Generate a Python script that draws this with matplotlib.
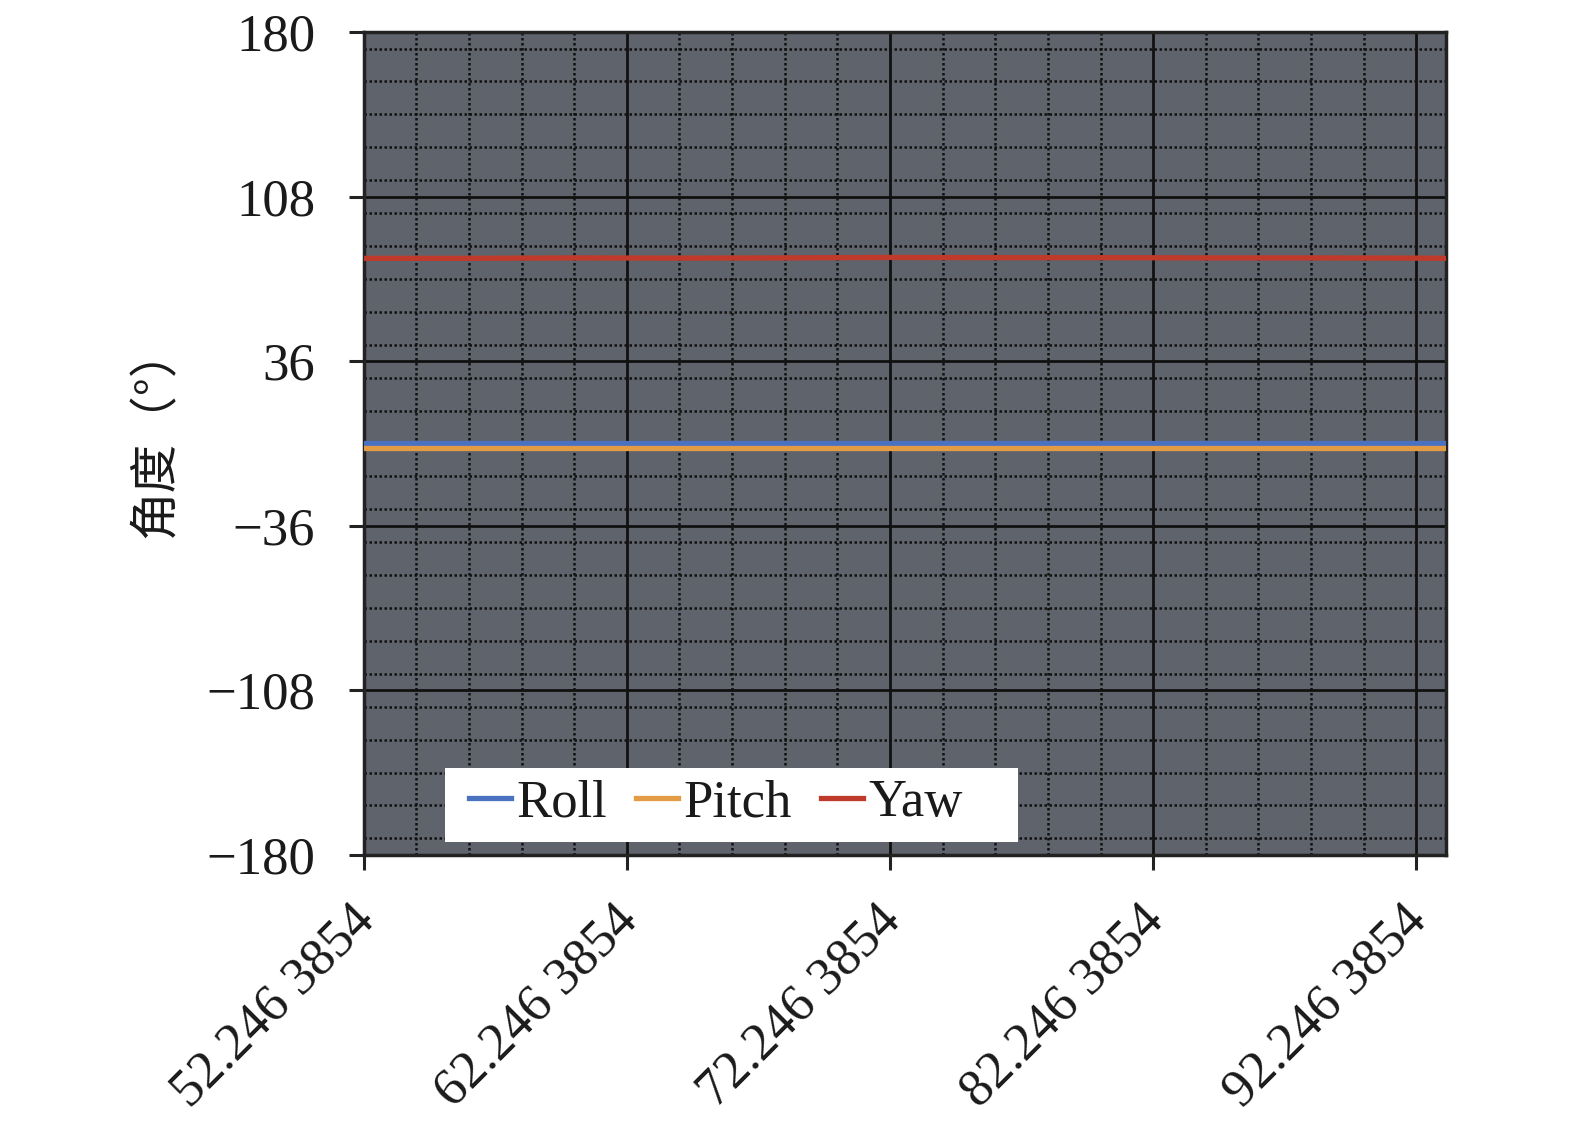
import matplotlib
matplotlib.use("Agg")
import matplotlib.pyplot as plt
from matplotlib.ticker import MultipleLocator, FixedLocator
from matplotlib.transforms import ScaledTranslation
from matplotlib.patches import Rectangle
import numpy as np

# Data
time_s = [52.2463854, 56.2463854, 60.2463854, 64.2463854, 68.2463854, 72.2463854,
          76.2463854, 80.2463854, 84.2463854, 88.2463854, 92.2463854, 93.32]
roll = [0.2, 0.2, 0.2, 0.2, 0.2, 0.2, 0.2, 0.2, 0.2, 0.2, 0.2, 0.2]
pitch = [-1.8, -1.8, -1.8, -1.8, -1.8, -1.8, -1.8, -1.8, -1.8, -1.8, -1.8, -1.8]
yaw = [81.0, 81.0, 81.2, 81.1, 81.2, 81.4, 81.3, 81.3, 81.2, 81.2, 81.1, 81.0]
x_ticks = [52.2463854, 62.2463854, 72.2463854, 82.2463854, 92.2463854]
x_tick_labels = ["52.246 3854", "62.246 3854", "72.246 3854", "82.246 3854", "92.246 3854"]
y_ticks = [-180, -108, -36, 36, 108, 180]
y_tick_labels = ["\u2212180", "\u2212108", "\u221236", "36", "108", "180"]

plt.rcParams['font.family'] = ['Liberation Serif', 'DejaVu Serif']

fig = plt.figure(figsize=(15.75, 11.26), dpi=100)
ax = fig.add_axes([0.2309, 0.2408, 0.9184 - 0.2309, 0.9715 - 0.2408])
ax.set_facecolor('#5f636b')

ax.plot(time_s, roll, color='#4a72c0', lw=3.8, label='Roll', zorder=3)
ax.plot(time_s, pitch, color='#e39b45', lw=3.8, label='Pitch', zorder=3)
ax.plot(time_s, yaw, color='#c03a2b', lw=3.8, label='Yaw', zorder=3)

ax.set_xlim(52.2463854, 93.39)
ax.set_ylim(-180, 180)

ax.yaxis.set_major_locator(FixedLocator(y_ticks))
ax.set_yticklabels(y_tick_labels)
ax.yaxis.set_minor_locator(MultipleLocator(14.4))
ax.xaxis.set_major_locator(FixedLocator(x_ticks))
ax.set_xticklabels(x_tick_labels, rotation=45, ha='right', va='top', rotation_mode='anchor')
ax.xaxis.set_minor_locator(FixedLocator(list(np.arange(52.2463854, 93.4, 2.0))))

ax.grid(which='major', color='#111111', lw=2.0, ls='-', zorder=1)
ax.grid(which='minor', color='#111111', lw=1.8, ls=(0, (1.0, 1.0)), zorder=1)
ax.set_axisbelow(True)

ax.tick_params(which='major', direction='out', length=11, width=2.2, color='#222222',
               labelsize=38, labelcolor='#1a1a1a')
ax.tick_params(axis='y', which='major', pad=24)
ax.tick_params(axis='x', which='major', pad=10)
ax.tick_params(which='minor', length=0)

offset = ScaledTranslation(-14 / 100, -12 / 100, fig.dpi_scale_trans)
for lab in ax.get_xticklabels():
    lab.set_transform(lab.get_transform() + offset)

for s in ax.spines.values():
    s.set_color('#222222')
    s.set_linewidth(2.5)

ax.text(-0.192, 0.514, '角度（°）', family=['Noto Sans CJK SC', 'DejaVu Sans'], fontsize=35,
        rotation=90, ha='center', va='center', color='#1a1a1a', transform=ax.transAxes)

# legend box (white panel) and legend entries
ax.add_patch(Rectangle((0.0751, 0.0159), 0.604 - 0.0751, 0.105 - 0.0159,
                       transform=ax.transAxes, facecolor='white', edgecolor='none', zorder=4))
leg = ax.legend(loc='center left', bbox_to_anchor=(0.097, 0.0625), ncol=3, fontsize=38,
                frameon=False, handlelength=0.8, handletextpad=0.1, columnspacing=0.55,
                borderpad=0, borderaxespad=0)
leg.set_zorder(5)
for t in leg.get_texts():
    t.set_color('#1a1a1a')

fig.savefig('out.png', dpi=100, facecolor='white')
